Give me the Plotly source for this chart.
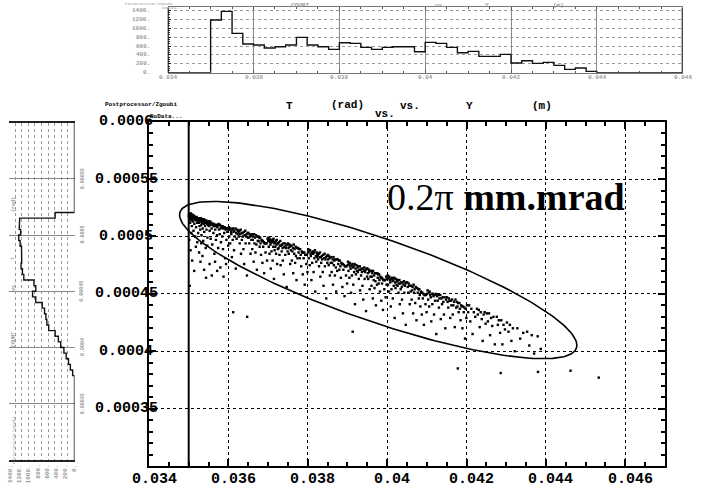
import numpy as np
import plotly.graph_objects as go

W, H = 708, 498

# Particle coordinates: (Y in mm, T in microradian)
PARTICLES = [
    # 35.00 - 35.25
    (35.003,518),(35.011,520),(35.017,515),(35.024,519),(35.031,517),(35.036,512),(35.044,518),(35.052,516),
    (35.058,520),(35.063,514),(35.071,518),(35.079,509),(35.084,517),(35.093,515),(35.098,519),(35.107,513),
    (35.112,517),(35.121,505),(35.127,516),(35.134,518),(35.142,511),(35.149,515),(35.157,517),(35.163,500),
    (35.171,514),(35.178,516),(35.186,508),(35.193,515),(35.201,517),(35.209,512),(35.216,495),(35.223,514),
    (35.231,516),(35.238,503),(35.245,513),(35.014,497),(35.047,488),(35.088,479),(35.139,470),(35.026,457),
    (35.181,491),(35.066,503),
    # 35.25 - 35.50
    (35.254,516),(35.259,512),(35.266,515),(35.272,509),(35.279,516),(35.284,514),(35.291,506),(35.298,515),
    (35.304,513),(35.311,516),(35.318,510),(35.323,501),(35.331,514),(35.337,512),(35.344,515),(35.352,507),
    (35.358,513),(35.366,496),(35.371,514),(35.379,511),(35.386,515),(35.392,504),(35.399,512),(35.407,514),
    (35.413,509),(35.421,513),(35.428,490),(35.434,512),(35.442,514),(35.449,506),(35.456,511),(35.463,513),
    (35.471,499),(35.478,512),(35.486,510),(35.493,513),(35.262,486),(35.297,478),(35.346,483),(35.389,471),
    (35.437,464),(35.468,492),(35.316,494),
    # 35.50 - 35.75
    (35.503,513),(35.512,509),(35.519,512),(35.528,505),(35.537,513),(35.544,510),(35.553,498),(35.561,511),
    (35.569,512),(35.577,507),(35.586,511),(35.594,493),(35.603,510),(35.611,511),(35.622,503),(35.631,509),
    (35.639,511),(35.648,485),(35.657,509),(35.668,506),(35.677,510),(35.686,497),(35.695,509),(35.706,510),
    (35.714,501),(35.723,508),(35.734,510),(35.742,490),(35.526,476),(35.583,466),(35.664,478),(35.717,470),
    # 35.75 - 36.00
    (35.754,511),(35.763,506),(35.771,510),(35.782,502),(35.791,510),(35.803,507),(35.812,495),(35.823,509),
    (35.834,508),(35.845,500),(35.856,509),(35.864,489),(35.873,507),(35.885,508),(35.896,503),(35.907,508),
    (35.918,481),(35.929,506),(35.938,507),(35.951,497),(35.962,507),(35.974,504),(35.986,507),(35.994,492),
    (35.797,473),(35.877,465),(35.942,476),
    # 36.00 - 36.25
    (36.004,506),(36.015,508),(36.021,500),(36.034,506),(36.046,494),(36.052,507),(36.067,504),(36.075,502),
    (36.088,482),(36.097,506),(36.109,497),(36.116,507),(36.131,504),(36.142,488),(36.150,505),(36.163,500),
    (36.178,507),(36.186,472),(36.199,503),(36.208,498),(36.221,506),(36.233,502),(36.241,505),(36.121,434),
    # 36.25 - 36.50
    (36.257,504),(36.262,500),(36.278,505),(36.286,494),(36.299,502),(36.311,506),(36.318,485),(36.333,503),
    (36.340,497),(36.356,503),(36.364,500),(36.379,489),(36.391,504),(36.398,476),(36.412,501),(36.425,505),
    (36.433,494),(36.447,500),(36.459,502),(36.468,466),(36.484,503),(36.493,499),
    # 36.50 - 36.75
    (36.503,503),(36.511,499),(36.526,494),(36.533,502),(36.547,500),(36.558,485),(36.566,501),(36.579,497),
    (36.592,502),(36.601,489),(36.614,497),(36.622,500),(36.637,478),(36.649,502),(36.655,494),(36.671,499),
    (36.682,486),(36.690,501),(36.706,493),(36.718,471),(36.729,500),(36.741,496),(36.473,430),
    # 36.75 - 37.00
    (36.756,500),(36.763,496),(36.779,499),(36.788,491),(36.801,499),(36.809,494),(36.823,484),(36.836,497),
    (36.842,496),(36.857,477),(36.869,496),(36.877,491),(36.892,495),(36.901,468),(36.913,494),(36.928,494),
    (36.935,486),(36.949,494),(36.962,494),(36.974,479),(36.988,498),
    # 37.00 - 37.25
    (37.003,496),(37.009,499),(37.018,491),(37.027,497),(37.036,485),(37.041,498),(37.052,495),(37.061,493),
    (37.069,472),(37.078,496),(37.086,487),(37.095,497),(37.103,495),(37.114,479),(37.122,496),(37.131,491),
    (37.137,498),(37.148,463),(37.156,494),(37.164,488),(37.175,495),(37.183,491),(37.191,496),(37.202,485),
    (37.211,493),(37.219,497),(37.228,476),(37.237,494),(37.246,489),
    # 37.25 - 37.50
    (37.254,494),(37.266,490),(37.271,495),(37.287,484),(37.294,492),(37.309,496),(37.316,475),(37.329,492),
    (37.343,487),(37.351,493),(37.366,490),(37.372,479),(37.388,494),(37.396,467),(37.411,491),(37.419,494),
    (37.434,484),(37.446,490),(37.453,492),(37.469,456),(37.478,493),(37.492,487),
    # 37.50 - 37.75
    (37.502,494),(37.514,490),(37.521,485),(37.536,493),(37.543,491),(37.557,476),(37.568,492),(37.576,488),
    (37.591,492),(37.599,479),(37.612,487),(37.627,490),(37.633,468),(37.648,493),(37.659,485),(37.667,489),
    (37.681,477),(37.694,491),(37.702,483),(37.716,462),(37.728,490),(37.739,481),
    # 37.75 - 38.00
    (37.758,490),(37.769,486),(37.781,489),(37.797,481),(37.808,489),(37.822,484),(37.834,474),(37.849,487),
    (37.858,486),(37.873,467),(37.887,486),(37.896,481),(37.911,486),(37.924,458),(37.937,484),(37.952,484),
    (37.963,476),(37.978,484),(37.992,469),
    # 38.00 - 38.25
    (38.006,486),(38.013,489),(38.027,481),(38.035,487),(38.049,475),(38.057,488),(38.071,485),(38.078,483),
    (38.092,462),(38.104,486),(38.111,477),(38.126,487),(38.133,485),(38.147,469),(38.159,486),(38.166,481),
    (38.181,488),(38.188,452),(38.203,483),(38.214,478),(38.226,486),(38.238,482),(38.247,485),
    # 38.25 - 38.50
    (38.253,484),(38.261,480),(38.276,485),(38.284,474),(38.298,482),(38.309,486),(38.317,465),(38.332,482),
    (38.339,477),(38.354,483),(38.362,480),(38.377,469),(38.389,484),(38.397,457),(38.412,481),(38.423,485),
    (38.431,474),(38.446,480),(38.458,482),(38.466,446),(38.481,483),(38.493,477),
    # 38.50 - 38.75
    (38.504,484),(38.512,480),(38.527,475),(38.534,483),(38.548,481),(38.557,466),(38.569,482),(38.578,477),
    (38.592,482),(38.601,469),(38.613,477),(38.628,480),(38.636,458),(38.649,482),(38.658,475),(38.671,479),
    (38.683,466),(38.692,480),(38.707,473),(38.716,452),(38.731,480),(38.742,470),
    # 38.75 - 39.00
    (38.757,480),(38.768,476),(38.782,479),(38.796,471),(38.807,479),(38.821,474),(38.833,464),(38.848,477),
    (38.859,476),(38.872,456),(38.886,476),(38.897,471),(38.912,475),(38.926,448),(38.938,474),(38.951,474),
    (38.964,466),(38.977,474),(38.991,459),
    # 39.00 - 39.25
    (39.005,475),(39.014,478),(39.026,470),(39.036,476),(39.048,464),(39.058,477),(39.069,474),(39.079,472),
    (39.091,451),(39.103,475),(39.112,466),(39.124,476),(39.134,473),(39.146,458),(39.158,474),(39.167,469),
    (39.179,476),(39.189,441),(39.202,472),(39.213,467),(39.225,475),(39.239,470),(39.131,417),
    # 39.25 - 39.50
    (39.252,473),(39.263,469),(39.275,474),(39.286,463),(39.297,471),(39.311,474),(39.318,453),(39.331,471),
    (39.342,466),(39.353,472),(39.364,469),(39.378,457),(39.388,472),(39.398,445),(39.413,470),(39.422,473),
    (39.433,463),(39.447,469),(39.456,471),(39.468,435),(39.482,472),(39.494,465),
    # 39.50 - 39.75
    (39.503,472),(39.516,468),(39.524,463),(39.538,471),(39.547,469),(39.559,454),(39.571,470),(39.579,465),
    (39.593,470),(39.604,457),(39.612,465),(39.627,468),(39.638,446),(39.646,470),(39.661,462),(39.672,466),
    (39.681,455),(39.696,468),(39.705,461),(39.717,440),(39.731,468),(39.744,458),
    # 39.75 - 40.00
    (39.754,468),(39.763,464),(39.775,467),(39.786,459),(39.797,467),(39.806,462),(39.818,452),(39.829,465),
    (39.841,464),(39.852,444),(39.863,464),(39.871,459),(39.884,463),(39.895,436),(39.906,462),(39.918,462),
    (39.929,454),(39.938,462),(39.951,462),(39.962,447),(39.974,465),(39.986,458),(39.995,463),
    # 40.00 - 40.25
    (40.004,463),(40.015,466),(40.023,458),(40.037,464),(40.046,452),(40.057,465),(40.068,462),(40.077,460),
    (40.091,439),(40.102,463),(40.109,454),(40.123,464),(40.134,461),(40.143,446),(40.157,462),(40.166,457),
    (40.178,464),(40.189,429),(40.201,460),(40.212,455),(40.224,463),(40.236,458),(40.247,461),
    # 40.25 - 40.50
    (40.253,461),(40.262,457),(40.277,462),(40.285,451),(40.299,459),(40.308,462),(40.319,441),(40.333,459),
    (40.341,454),(40.355,460),(40.367,456),(40.374,445),(40.389,460),(40.397,433),(40.411,458),(40.424,461),
    (40.432,451),(40.447,457),(40.459,459),(40.468,423),(40.482,460),
    # 40.50 - 40.75
    (40.506,460),(40.519,456),(40.531,451),(40.542,459),(40.556,457),(40.569,441),(40.578,457),(40.592,452),
    (40.605,457),(40.617,445),(40.629,453),(40.641,456),(40.654,433),(40.667,458),(40.679,451),(40.693,454),
    (40.707,442),(40.721,456),(40.738,427),
    # 40.75 - 41.00
    (40.757,455),(40.771,451),(40.783,454),(40.797,446),(40.809,454),(40.822,449),(40.836,439),(40.849,452),
    (40.861,451),(40.874,432),(40.887,451),(40.899,446),(40.913,450),(40.926,423),(40.939,449),(40.952,449),
    (40.966,441),(40.979,449),(40.993,434),
    # 41.00 - 41.25
    (41.007,450),(41.019,453),(41.033,445),(41.046,451),(41.058,439),(41.073,452),(41.086,449),(41.099,447),
    (41.112,426),(41.127,450),(41.139,441),(41.152,450),(41.166,448),(41.181,432),(41.194,449),(41.208,444),
    (41.223,450),(41.238,415),
    # 41.25 - 41.50
    (41.258,448),(41.273,444),(41.289,449),(41.304,438),(41.319,446),(41.336,449),(41.351,428),(41.367,446),
    (41.383,441),(41.399,447),(41.416,443),(41.431,432),(41.449,447),(41.466,420),(41.484,445),
    # 41.50 - 41.75
    (41.508,447),(41.523,443),(41.539,438),(41.556,446),(41.571,444),(41.588,429),(41.604,444),(41.619,440),
    (41.637,445),(41.652,432),(41.668,440),(41.686,443),(41.703,421),(41.721,445),(41.739,438),(41.780,385),
    # 41.75 - 42.00
    (41.756,443),(41.771,439),(41.787,442),(41.802,434),(41.818,442),(41.833,437),(41.849,427),(41.866,440),
    (41.881,439),(41.897,420),(41.913,439),(41.929,434),(41.946,438),(41.962,411),(41.979,437),(41.994,429),
    # 42.00 - 43.00
    (42.013,440),(42.041,434),(42.066,440),(42.094,426),(42.121,437),(42.152,415),(42.184,434),(42.219,430),
    (42.262,437),(42.284,432),(42.309,436),(42.331,421),(42.357,434),(42.383,428),(42.406,409),(42.431,432),
    (42.456,434),(42.481,424),
    (42.511,433),(42.538,426),(42.566,433),(42.593,414),(42.619,429),(42.648,422),(42.677,430),(42.712,406),
    (42.763,430),(42.789,423),(42.812,427),(42.846,416),(42.874,427),(42.903,406),(42.932,423),(42.968,419),
    (42.860,381),
    # 43.00 and beyond
    (43.018,425),(43.057,417),(43.092,423),(43.131,409),(43.168,420),(43.213,400),
    (43.281,420),(43.352,411),(43.428,416),
    (43.526,417),(43.581,405),(43.642,414),(43.703,398),
    (43.792,413),(43.871,402),(43.800,382),(44.620,383),(45.330,377),
]
PART_Y = [p[0] * 1e-3 for p in PARTICLES]
PART_T = [p[1] * 1e-6 for p in PARTICLES]

# Histogram of Y (top panel)
Y_HIST_START = 0.035
Y_HIST_BIN = 0.00025
Y_HIST_COUNTS = [1183, 1378, 884, 644, 622, 554, 584, 622, 794, 622, 584, 524,
                 674, 659, 569, 524, 569, 584, 584, 472, 682, 659, 569, 449,
                 479, 367, 367, 412, 217, 270, 210, 232, 165, 75, 105, 30]

# Histogram of T (left panel), bins listed from the highest T downwards
T_HIST_TOP = 0.000520
T_HIST_BIN = 0.000005
T_HIST_COUNTS = [420, 1190, 1200, 1170, 1210, 1180, 1150, 1140, 1145, 1160, 1130, 1100,
                 880, 840, 910, 840, 700, 650, 620, 600, 560, 420, 350, 300, 230, 180,
                 130, 90, 40]

MAIN_X_TICKS = [0.034, 0.036, 0.038, 0.040, 0.042, 0.044, 0.046]
MAIN_X_LABELS = ["0.034", "0.036", "0.038", "0.04", "0.042", "0.044", "0.046"]
MAIN_Y_TICKS = [0.00035, 0.0004, 0.00045, 0.0005, 0.00055, 0.0006]
MAIN_Y_LABELS = ["0.00035", "0.0004", "0.00045", "0.0005", "0.00055", "0.0006"]

HIST_COUNT_TICKS = [0, 200, 400, 600, 800, 1000, 1200, 1400]
HIST_COUNT_LABELS = ["0.", "200.", "400.", "600.", "800.", "1000.", "1200.", "1400."]
SIDE_T_TICKS = [0.00035, 0.0004, 0.00045, 0.0005, 0.00055]
SIDE_T_LABELS = ["0.00035", "0.0004", "0.00045", "0.0005", "0.00055"]

CUT_Y = 0.035
ELLIPSE_CENTER = (0.039775, 0.000462)
ELLIPSE_HALF_Y = 0.005005
ELLIPSE_HALF_T = 0.0000685
ELLIPSE_PHASE = 2.549
EMITTANCE_TEXT = "0.2\u03c0 <b>mm.mrad</b>"

MONO = "Liberation Mono"
GREY = "#9a9a9a"

# panel boxes in pixels (left, top, right, bottom)
MAIN_BOX = (149, 121.7, 665, 466)
TOP_BOX = (167.7, 7.3, 682.7, 72.7)
SIDE_BOX = (8.6, 122.5, 74.5, 460)


def fx(px):
    return px / W


def fy(py):
    return 1 - py / H


fig = go.Figure()

# main scatter
fig.add_trace(go.Scatter(x=PART_Y, y=PART_T, mode="markers",
                         marker=dict(symbol="square", size=2.4, color="black", line=dict(width=0)),
                         xaxis="x", yaxis="y", hoverinfo="skip"))

# emittance ellipse
t = np.linspace(0, 2 * np.pi, 241)
ex = ELLIPSE_CENTER[0] + ELLIPSE_HALF_Y * np.cos(t)
ey = ELLIPSE_CENTER[1] + ELLIPSE_HALF_T * np.cos(t - ELLIPSE_PHASE)
fig.add_trace(go.Scatter(x=ex, y=ey, mode="lines", line=dict(color="black", width=1.6),
                         xaxis="x", yaxis="y", hoverinfo="skip"))

# top histogram (counts vs Y)
edges = [Y_HIST_START + i * Y_HIST_BIN for i in range(len(Y_HIST_COUNTS) + 1)]
hx = [0.034, Y_HIST_START] + edges[:-1] + [edges[-1], 0.046]
hy = [0, 0] + Y_HIST_COUNTS + [0, 0]
fig.add_trace(go.Scatter(x=hx, y=hy, mode="lines", line=dict(color="#111", width=1.4, shape="hv"),
                         xaxis="x2", yaxis="y2", hoverinfo="skip"))

# left histogram (counts vs T), counts growing to the left
lx, ly = [0, 0], [0.0006, T_HIST_TOP]
for i, c in enumerate(T_HIST_COUNTS):
    hi = T_HIST_TOP - i * T_HIST_BIN
    lo = hi - T_HIST_BIN
    lx += [c, c]
    ly += [hi, lo]
lx += [0, 0]
ly += [ly[-1], 0.0003]
fig.add_trace(go.Scatter(x=lx, y=ly, mode="lines", line=dict(color="#111", width=1.4),
                         xaxis="x3", yaxis="y3", hoverinfo="skip"))

main_axis = dict(showline=True, linecolor="black", linewidth=2, mirror="allticks",
                 ticks="inside", tickcolor="black", tickwidth=1.5, ticklen=7,
                 showticklabels=False, zeroline=False,
                 showgrid=True, gridcolor="black", gridwidth=1, griddash="dot")

fig.update_layout(
    width=W, height=H, margin=dict(l=0, r=0, t=0, b=0),
    paper_bgcolor="white", plot_bgcolor="white", showlegend=False,
    xaxis=dict(domain=[fx(MAIN_BOX[0]), fx(MAIN_BOX[2])], range=[0.034, 0.047], anchor="y",
               tickmode="array", tickvals=MAIN_X_TICKS,
               minor=dict(tickmode="linear", tick0=0.034, dtick=0.0005, ticks="inside",
                          ticklen=4, tickwidth=1.5, tickcolor="black", showgrid=False),
               **main_axis),
    yaxis=dict(domain=[fy(MAIN_BOX[3]), fy(MAIN_BOX[1])], range=[0.0003, 0.0006], anchor="x",
               tickmode="array", tickvals=MAIN_Y_TICKS,
               minor=dict(tickmode="linear", tick0=0.0003, dtick=0.00001, ticks="inside",
                          ticklen=4, tickwidth=1.5, tickcolor="black", showgrid=False),
               **main_axis),
    xaxis2=dict(domain=[fx(TOP_BOX[0]), fx(TOP_BOX[2])], range=[0.034, 0.046], anchor="y2",
                tickmode="array", tickvals=MAIN_X_TICKS, showticklabels=False,
                ticks="inside", ticklen=3, tickcolor="#555",
                showline=True, linecolor="#777", linewidth=1, mirror="allticks",
                showgrid=True, gridcolor="#888", gridwidth=1.2, zeroline=False,
                minor=dict(tickmode="linear", tick0=0.034, dtick=0.0005, ticks="inside",
                           ticklen=2, tickcolor="#555", showgrid=False)),
    yaxis2=dict(domain=[fy(TOP_BOX[3]), fy(TOP_BOX[1])], range=[0, 1470], anchor="x2",
                tickmode="array", tickvals=HIST_COUNT_TICKS, showticklabels=False,
                ticks="inside", ticklen=3, tickcolor="#222",
                showline=False, showgrid=True, gridcolor="#999", gridwidth=1,
                griddash="dot", zeroline=False,
                minor=dict(tickmode="linear", tick0=0, dtick=50, ticks="inside",
                           ticklen=2, tickcolor="#444", showgrid=False)),
    xaxis3=dict(domain=[fx(SIDE_BOX[0]), fx(SIDE_BOX[2])], range=[1430, 0], anchor="y3",
                tickmode="array", tickvals=[], showticklabels=False,
                ticks="", showline=True, linecolor="#222", linewidth=1.5, mirror=True,
                showgrid=False, zeroline=False,
                minor=dict(tickmode="linear", tick0=0, dtick=143, showgrid=True,
                           gridcolor="#999", gridwidth=1, griddash="dot", ticks="")),
    yaxis3=dict(domain=[fy(SIDE_BOX[3]), fy(SIDE_BOX[1])], range=[0.0003, 0.0006], anchor="x3",
                tickmode="array", tickvals=SIDE_T_TICKS, showticklabels=False,
                ticks="", showline=False, showgrid=True, gridcolor="#8a8a8a", gridwidth=1.2,
                zeroline=False),
)

# vertical cut line at Y = 0.035
fig.add_shape(type="line", xref="x", yref="y", x0=CUT_Y, x1=CUT_Y, y0=0.0003, y1=0.0006,
              line=dict(color="black", width=2))
# darker side frame edges of the top histogram
for xv in (0.034, 0.046):
    fig.add_shape(type="line", xref="x2", yref="y2", x0=xv, x1=xv, y0=0, y1=1470,
                  line=dict(color="black", width=2))

ann = []


def label(x, y, text, size, color="black", xref="paper", yref="paper", bold=True,
          xanchor="center", yanchor="middle", angle=0, family=MONO, xshift=0):
    ann.append(dict(x=x, y=y, xref=xref, yref=yref, text=text, showarrow=False,
                    xanchor=xanchor, yanchor=yanchor, textangle=angle, xshift=xshift,
                    font=dict(family=family, size=size, color=color,
                              weight="bold" if bold else "normal")))


for v, s in zip(MAIN_X_TICKS, MAIN_X_LABELS):
    label(v, fy(479), s, 15, xref="x", xshift=5)
for v, s in zip(MAIN_Y_TICKS, MAIN_Y_LABELS):
    label(fx(126), v, s, 15, yref="y")

# main title pieces
for txt, px, py in [("T", 289, 106), ("(rad)", 347, 105), ("vs.", 385, 114),
                    ("vs.", 410, 106), ("Y", 469, 106), ("(m)", 542, 106)]:
    label(fx(px), fy(py), txt, 11)
label(fx(103), fy(105), "Postprocessor/Zgoubi", 6, xanchor="left")
label(fx(148), fy(116), "NoData...", 6, xanchor="left")

# emittance label
label(fx(385), fy(197), EMITTANCE_TEXT, 38, bold=False, xanchor="left",
      family="Liberation Serif")

# top histogram labels
for v, s in zip(MAIN_X_TICKS, MAIN_X_LABELS):
    label(v, fy(77), s, 6, color=GREY, xref="x2")
for v, s in zip(HIST_COUNT_TICKS, HIST_COUNT_LABELS):
    label(fx(152), v, s, 6, color=GREY, yref="y2", xanchor="right")
for txt, px in [("COUNT", 300), ("vs.", 440), ("Y", 487), ("(m)", 558)]:
    label(fx(px), fy(5), txt, 6, color=GREY)
label(fx(123), fy(4), "Postprocessor/Zgoubi", 4, color=GREY, bold=False, xanchor="left")
label(fx(160), fy(8), "NoData...", 4, color=GREY, bold=False, xanchor="left")

# left histogram labels (rotated)
for v, s in zip(HIST_COUNT_TICKS, HIST_COUNT_LABELS):
    label(v, fy(SIDE_BOX[3] + 3), s, 6, color=GREY, xref="x3", yanchor="top", angle=-90)
for v, s in zip(SIDE_T_TICKS, SIDE_T_LABELS):
    label(fx(SIDE_BOX[2] + 3), v, s, 5, color=GREY, yref="y3", xanchor="left", angle=-90)
for txt, py in [("(rad)", 205), ("T", 259), ("vs.", 287), ("COUNT", 340)]:
    label(fx(14), fy(py), txt, 5, color=GREY, angle=-90)
label(fx(14), fy(440), "Postprocessor/Zgoubi", 4, color=GREY, bold=False, angle=-90)

fig.update_layout(annotations=ann)
fig.write_html("out.html")
